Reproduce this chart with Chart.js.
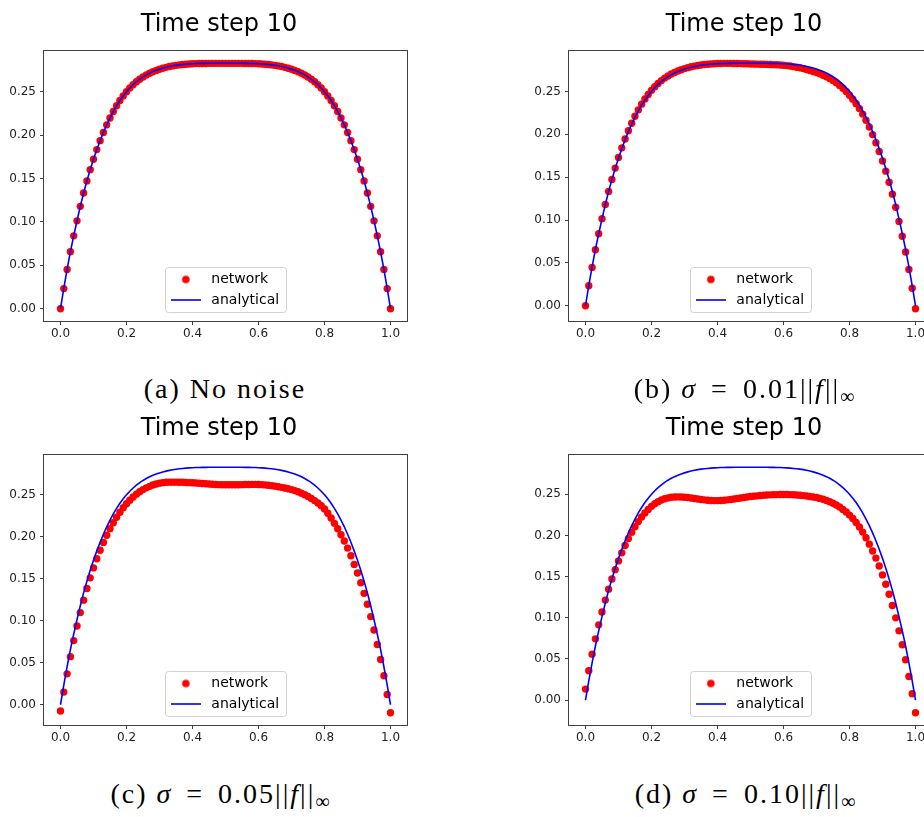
<!DOCTYPE html>
<html>
<head>
<meta charset="utf-8">
<script src="https://cdn.jsdelivr.net/npm/chart.js@4.4.1/dist/chart.umd.min.js"></script>
<style>
  html, body { margin: 0; padding: 0; background: #fff; overflow: hidden; width: 924px; height: 817px; }
  canvas { position: absolute; }
  .cap { position: absolute; width: 440px; text-align: center; font-family: "Liberation Serif", serif;
         font-size: 28px; line-height: 28px; color: #000; letter-spacing: 2px; white-space: nowrap; }
  .cap .eq { margin: 0 0.5em; }
  .cap sub { font-size: 20px; vertical-align: -5px; line-height: 0; }
</style>
</head>
<body>
<canvas id="panelA" width="438" height="345" style="left:0px;top:0px"></canvas>
<canvas id="panelB" width="438" height="345" style="left:525px;top:0px"></canvas>
<canvas id="panelC" width="438" height="345" style="left:0px;top:404px"></canvas>
<canvas id="panelD" width="438" height="345" style="left:525px;top:404px"></canvas>

<div class="cap" style="left:5px;top:375px">(a) No noise</div>
<div class="cap" style="left:525px;top:375px">(b) <i>σ</i><span class="eq">=</span>0.01||<i>f</i>||<sub>∞</sub></div>
<div class="cap" style="left:1px;top:780px">(c) <i>σ</i><span class="eq">=</span>0.05||<i>f</i>||<sub>∞</sub></div>
<div class="cap" style="left:526px;top:780px">(d) <i>σ</i><span class="eq">=</span>0.10||<i>f</i>||<sub>∞</sub></div>

<script>
// grid points
const xValues = [
  0.00, 0.01, 0.02, 0.03, 0.04, 0.05, 0.06, 0.07, 0.08, 0.09,
  0.10, 0.11, 0.12, 0.13, 0.14, 0.15, 0.16, 0.17, 0.18, 0.19,
  0.20, 0.21, 0.22, 0.23, 0.24, 0.25, 0.26, 0.27, 0.28, 0.29,
  0.30, 0.31, 0.32, 0.33, 0.34, 0.35, 0.36, 0.37, 0.38, 0.39,
  0.40, 0.41, 0.42, 0.43, 0.44, 0.45, 0.46, 0.47, 0.48, 0.49,
  0.50, 0.51, 0.52, 0.53, 0.54, 0.55, 0.56, 0.57, 0.58, 0.59,
  0.60, 0.61, 0.62, 0.63, 0.64, 0.65, 0.66, 0.67, 0.68, 0.69,
  0.70, 0.71, 0.72, 0.73, 0.74, 0.75, 0.76, 0.77, 0.78, 0.79,
  0.80, 0.81, 0.82, 0.83, 0.84, 0.85, 0.86, 0.87, 0.88, 0.89,
  0.90, 0.91, 0.92, 0.93, 0.94, 0.95, 0.96, 0.97, 0.98, 0.99,
  1.00
];

const analytical = [
  0.0000, 0.0234, 0.0453, 0.0657, 0.0840, 0.1014, 0.1180, 0.1333, 0.1472, 0.1602,
  0.1722, 0.1833, 0.1936, 0.2031, 0.2120, 0.2200, 0.2274, 0.2340, 0.2400, 0.2453,
  0.2501, 0.2544, 0.2582, 0.2616, 0.2646, 0.2672, 0.2695, 0.2715, 0.2733, 0.2748,
  0.2761, 0.2773, 0.2783, 0.2792, 0.2800, 0.2806, 0.2811, 0.2815, 0.2819, 0.2822,
  0.2824, 0.2826, 0.2827, 0.2828, 0.2828, 0.2829, 0.2829, 0.2829, 0.2829, 0.2829,
  0.2829, 0.2829, 0.2829, 0.2829, 0.2829, 0.2829, 0.2828, 0.2828, 0.2827, 0.2826,
  0.2824, 0.2822, 0.2819, 0.2815, 0.2811, 0.2806, 0.2800, 0.2792, 0.2783, 0.2773,
  0.2761, 0.2748, 0.2733, 0.2715, 0.2695, 0.2672, 0.2646, 0.2616, 0.2582, 0.2544,
  0.2501, 0.2453, 0.2400, 0.2340, 0.2274, 0.2200, 0.2120, 0.2031, 0.1936, 0.1833,
  0.1722, 0.1602, 0.1472, 0.1333, 0.1180, 0.1014, 0.0840, 0.0657, 0.0453, 0.0234,
  0.0000
];

const networkNoNoise = [
  0.0000, 0.0232, 0.0452, 0.0656, 0.0840, 0.1013, 0.1180, 0.1334, 0.1473, 0.1603,
  0.1723, 0.1834, 0.1937, 0.2031, 0.2119, 0.2199, 0.2273, 0.2340, 0.2400, 0.2453,
  0.2501, 0.2544, 0.2582, 0.2616, 0.2645, 0.2671, 0.2694, 0.2714, 0.2732, 0.2747,
  0.2760, 0.2772, 0.2782, 0.2791, 0.2799, 0.2805, 0.2810, 0.2814, 0.2818, 0.2821,
  0.2823, 0.2825, 0.2826, 0.2827, 0.2827, 0.2828, 0.2828, 0.2828, 0.2828, 0.2828,
  0.2828, 0.2828, 0.2828, 0.2828, 0.2828, 0.2828, 0.2827, 0.2827, 0.2826, 0.2825,
  0.2823, 0.2821, 0.2818, 0.2814, 0.2810, 0.2805, 0.2799, 0.2791, 0.2782, 0.2772,
  0.2760, 0.2747, 0.2732, 0.2714, 0.2694, 0.2671, 0.2645, 0.2616, 0.2582, 0.2544,
  0.2501, 0.2453, 0.2400, 0.2340, 0.2273, 0.2199, 0.2119, 0.2031, 0.1937, 0.1834,
  0.1723, 0.1603, 0.1473, 0.1334, 0.1180, 0.1013, 0.0840, 0.0656, 0.0452, 0.0232,
  0.0000
];

const network001 = [
  0.0000, 0.0233, 0.0447, 0.0653, 0.0839, 0.1016, 0.1181, 0.1334, 0.1474, 0.1606,
  0.1729, 0.1842, 0.1946, 0.2041, 0.2130, 0.2211, 0.2285, 0.2352, 0.2412, 0.2465,
  0.2513, 0.2556, 0.2594, 0.2627, 0.2656, 0.2681, 0.2703, 0.2722, 0.2739, 0.2754,
  0.2767, 0.2778, 0.2788, 0.2796, 0.2803, 0.2809, 0.2814, 0.2818, 0.2821, 0.2824,
  0.2826, 0.2827, 0.2828, 0.2828, 0.2828, 0.2827, 0.2826, 0.2825, 0.2824, 0.2823,
  0.2821, 0.2820, 0.2819, 0.2818, 0.2817, 0.2816, 0.2814, 0.2813, 0.2811, 0.2809,
  0.2806, 0.2802, 0.2797, 0.2790, 0.2783, 0.2776, 0.2767, 0.2756, 0.2745, 0.2733,
  0.2720, 0.2706, 0.2690, 0.2671, 0.2650, 0.2627, 0.2601, 0.2571, 0.2537, 0.2499,
  0.2456, 0.2409, 0.2358, 0.2300, 0.2236, 0.2164, 0.2085, 0.1997, 0.1902, 0.1800,
  0.1689, 0.1570, 0.1441, 0.1302, 0.1149, 0.0984, 0.0810, 0.0627, 0.0423, 0.0204,
  -0.0035
];

const network005 = [
  -0.0075, 0.0151, 0.0368, 0.0573, 0.0764, 0.0938, 0.1098, 0.1246, 0.1384, 0.1512,
  0.1630, 0.1740, 0.1841, 0.1934, 0.2020, 0.2098, 0.2169, 0.2234, 0.2293, 0.2346,
  0.2394, 0.2437, 0.2475, 0.2509, 0.2538, 0.2563, 0.2584, 0.2602, 0.2617, 0.2630,
  0.2640, 0.2646, 0.2650, 0.2652, 0.2652, 0.2652, 0.2651, 0.2650, 0.2648, 0.2646,
  0.2644, 0.2641, 0.2638, 0.2635, 0.2632, 0.2629, 0.2626, 0.2624, 0.2622, 0.2621,
  0.2620, 0.2620, 0.2620, 0.2620, 0.2621, 0.2622, 0.2623, 0.2624, 0.2625, 0.2625,
  0.2624, 0.2622, 0.2619, 0.2615, 0.2610, 0.2604, 0.2597, 0.2590, 0.2582, 0.2573,
  0.2563, 0.2551, 0.2537, 0.2521, 0.2503, 0.2482, 0.2458, 0.2432, 0.2403, 0.2370,
  0.2333, 0.2282, 0.2225, 0.2161, 0.2096, 0.2025, 0.1951, 0.1866, 0.1775, 0.1672,
  0.1569, 0.1454, 0.1327, 0.1197, 0.1050, 0.0891, 0.0717, 0.0539, 0.0345, 0.0123,
  -0.0095
];

const network010 = [
  0.0133, 0.0356, 0.0558, 0.0744, 0.0914, 0.1071, 0.1215, 0.1348, 0.1471, 0.1585,
  0.1691, 0.1789, 0.1879, 0.1962, 0.2038, 0.2107, 0.2169, 0.2225, 0.2274, 0.2317,
  0.2354, 0.2385, 0.2411, 0.2431, 0.2446, 0.2457, 0.2464, 0.2468, 0.2469, 0.2468,
  0.2465, 0.2461, 0.2456, 0.2450, 0.2444, 0.2438, 0.2433, 0.2429, 0.2426, 0.2424,
  0.2424, 0.2426, 0.2429, 0.2433, 0.2438, 0.2444, 0.2450, 0.2456, 0.2462, 0.2468,
  0.2473, 0.2478, 0.2482, 0.2486, 0.2489, 0.2492, 0.2494, 0.2496, 0.2497, 0.2498,
  0.2498, 0.2498, 0.2497, 0.2495, 0.2492, 0.2489, 0.2485, 0.2480, 0.2474, 0.2468,
  0.2461, 0.2451, 0.2440, 0.2426, 0.2410, 0.2392, 0.2371, 0.2346, 0.2317, 0.2285,
  0.2248, 0.2206, 0.2158, 0.2103, 0.2041, 0.1972, 0.1895, 0.1812, 0.1725, 0.1630,
  0.1521, 0.1408, 0.1286, 0.1149, 0.0999, 0.0841, 0.0672, 0.0489, 0.0287, 0.0077,
  -0.0154
];

const xTickValues = [0, 0.2, 0.4, 0.6, 0.8, 1.0];
const xTickLabels = ['0.0', '0.2', '0.4', '0.6', '0.8', '1.0'];
const yTickValues = [0, 0.05, 0.10, 0.15, 0.20, 0.25];
const yTickLabels = ['0.00', '0.05', '0.10', '0.15', '0.20', '0.25'];
const legendLabels = ['network', 'analytical'];
const panelTitle = 'Time step 10';

// legend icons (dot and line), drawn once and reused
function makeIcon(kind) {
  const c = document.createElement('canvas');
  c.width = 30; c.height = 10;
  const g = c.getContext('2d');
  if (kind === 'dot') {
    g.fillStyle = '#ff0000';
    g.beginPath(); g.arc(15, 5, 3.8, 0, Math.PI * 2); g.fill();
  } else {
    g.fillStyle = '#0000ff';
    g.fillRect(0, 4.2, 30, 1.6);
  }
  return c;
}
const dotIcon = makeIcon('dot');
const lineIcon = makeIcon('line');

const legendFont = '14px "DejaVu Sans"';

// puts the legend inside the axes (lower centre) and draws frame + axes box
const panelDecor = {
  id: 'panelDecor',
  afterLayout(chart) {
    const lg = chart.legend, ca = chart.chartArea, ctx = chart.ctx;
    ctx.save();
    ctx.font = legendFont;
    const textW = Math.max(...legendLabels.map(t => ctx.measureText(t).width));
    ctx.restore();
    const fw = 46.5 + textW + 7;
    const fh = 45;
    const fl = (ca.left + ca.right) / 2 - fw / 2;
    const ft = ca.bottom - 8.7 - fh;
    chart.$frame = { l: fl, t: ft, w: fw, h: fh };
    lg.left = fl - 4;
    lg.top = ft - 1.3;
    lg.right = lg.left + lg.width;
    lg.bottom = lg.top + lg.height;
  },
  beforeDraw(chart) {
    const f = chart.$frame, ctx = chart.ctx;
    if (!f) return;
    ctx.save();
    ctx.beginPath();
    ctx.roundRect(Math.round(f.l) + 0.5, Math.round(f.t) + 0.5, Math.round(f.w), Math.round(f.h), 3);
    ctx.fillStyle = 'rgba(255,255,255,0.8)';
    ctx.fill();
    ctx.strokeStyle = '#d2d2d2';
    ctx.lineWidth = 1;
    ctx.stroke();
    ctx.restore();
  },
  afterDraw(chart) {
    const ca = chart.chartArea, ctx = chart.ctx;
    ctx.save();
    ctx.strokeStyle = '#404040';
    ctx.lineWidth = 1;
    ctx.strokeRect(Math.round(ca.left) - 0.5, Math.round(ca.top) - 0.5,
                   Math.round(ca.right - ca.left) + 1, Math.round(ca.bottom - ca.top) + 1);
    ctx.restore();
  }
};

function makePanel(id, network) {
  const all = network.concat(analytical);
  const lo = Math.min(...all), hi = Math.max(...all);
  const span = hi - lo;
  const tickFont = { family: 'DejaVu Sans', size: 12 };
  const gridOpts = { display: true, drawOnChartArea: false, drawTicks: true, tickLength: 4, color: '#404040', lineWidth: 1 };

  new Chart(document.getElementById(id), {
    type: 'scatter',
    data: {
      datasets: [{
        label: legendLabels[0],
        data: xValues.map((x, i) => ({ x: x, y: network[i] })),
        pointRadius: 3.7,
        pointBorderWidth: 0,
        pointBackgroundColor: '#ff0000',
        pointBorderColor: '#ff0000',
        showLine: false,
        order: 1
      }, {
        label: legendLabels[1],
        data: xValues.map((x, i) => ({ x: x, y: analytical[i] })),
        showLine: true,
        pointRadius: 0,
        borderColor: '#0000ff',
        borderWidth: 1.6,
        tension: 0,
        order: 0
      }]
    },
    options: {
      responsive: false,
      animation: false,
      devicePixelRatio: 1,
      layout: { padding: 0 },
      scales: {
        x: {
          type: 'linear',
          min: -0.05,
          max: 1.05,
          afterBuildTicks: s => { s.ticks = xTickValues.map(v => ({ value: v })); },
          afterFit: s => { s.height = 24; },
          ticks: {
            autoSkip: false, maxRotation: 0, padding: 2, color: '#222',
            font: tickFont,
            callback: (v, i) => xTickLabels[i]
          },
          grid: gridOpts,
          border: { display: false }
        },
        y: {
          type: 'linear',
          min: lo - 0.05 * span,
          max: hi + 0.05 * span,
          afterBuildTicks: s => { s.ticks = yTickValues.map(v => ({ value: v })); },
          afterFit: s => { s.width = 44; },
          ticks: {
            autoSkip: false, padding: 4, color: '#222',
            font: tickFont,
            callback: (v, i) => yTickLabels[i]
          },
          grid: gridOpts,
          border: { display: false }
        },
        // empty right-hand strip so the title centres on the whole figure cell
        yRight: {
          type: 'linear',
          position: 'right',
          afterFit: s => { s.width = 31; },
          ticks: { display: false },
          grid: { display: false },
          border: { display: false }
        }
      },
      plugins: {
        tooltip: { enabled: false },
        title: {
          display: true,
          text: panelTitle,
          color: '#000',
          font: { family: 'DejaVu Sans', size: 24, weight: 'normal', lineHeight: 1.2 },
          padding: { top: 10.6, bottom: 11.6 }
        },
        legend: {
          display: true,
          position: 'chartArea',
          fullSize: false,
          align: 'start',
          labels: {
            usePointStyle: true,
            pointStyleWidth: 37,
            padding: 6.5,
            color: '#000',
            font: { family: 'DejaVu Sans', size: 14 },
            generateLabels: () => [
              { text: legendLabels[0], pointStyle: dotIcon, datasetIndex: 0, hidden: false, lineWidth: 0, fontColor: '#000', fillStyle: '#ff0000', strokeStyle: '#ff0000' },
              { text: legendLabels[1], pointStyle: lineIcon, datasetIndex: 1, hidden: false, lineWidth: 0, fontColor: '#000', fillStyle: '#0000ff', strokeStyle: '#0000ff' }
            ]
          }
        }
      }
    },
    plugins: [panelDecor]
  });
}

makePanel('panelA', networkNoNoise);
makePanel('panelB', network001);
makePanel('panelC', network005);
makePanel('panelD', network010);
</script>
</body>
</html>
